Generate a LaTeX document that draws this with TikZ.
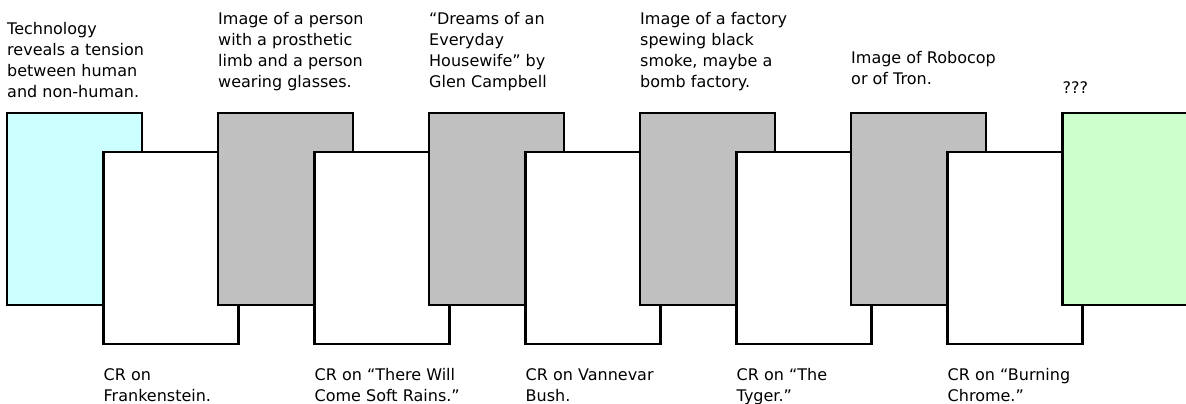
\documentclass[tikz,border=0pt]{standalone}
\usepackage{fontspec}
\setmainfont{DejaVu Sans}
\usepackage{xcolor}
\usetikzlibrary{positioning}

\definecolor{cyanlicht}{HTML}{CCFFFF}
\definecolor{grijs}{HTML}{C0C0C0}
\definecolor{groenlicht}{HTML}{CCFFCC}

\begin{document}
\begin{tikzpicture}[x=1pt, y=-1pt,
    card/.style={draw, line width=2.6pt, minimum width=135pt, minimum height=192pt,
                 anchor=north west, inner sep=0pt, outer sep=0pt},
    lbl/.style={anchor=north west, inner sep=0pt, align=left,
                font=\fontsize{16}{21}\selectfont}]

    % Kader en afsnijden
    \clip (0,0) rectangle (1186,404);

    % Rij van kaarten, van links naar rechts
    \node[card, fill=cyanlicht] (tech) at (7,113) {};
    \node[card, fill=white] (cr1) at (103.5,152) {};
    \node[card, fill=grijs] (img1) at (218,113) {};
    \node[card, fill=white] (cr2) at (314.5,152) {};
    \node[card, fill=grijs] (img2) at (429,113) {};
    \node[card, fill=white] (cr3) at (525.5,152) {};
    \node[card, fill=grijs] (img3) at (640,113) {};
    \node[card, fill=white] (cr4) at (736.5,152) {};
    \node[card, fill=grijs] (img4) at (851,113) {};
    \node[card, fill=white] (cr5) at (947.5,152) {};
    \node[card, fill=groenlicht] (slot) at (1062.5,113) {};

    % Teksten boven
    \node[lbl] (techtxt) at (7,22) {Technology\\reveals a tension\\between human\\and non-human.};
    \node[lbl] (img1txt) at (218,12) {Image of a person\\with a prosthetic\\limb and a person\\wearing glasses.};
    \node[lbl] (img2txt) at (429,12) {“Dreams of an\\Everyday\\Housewife” by\\Glen Campbell};
    \node[lbl] (img3txt) at (640,12) {Image of a factory\\spewing black\\smoke, maybe a\\bomb factory.};
    \node[lbl] (img4txt) at (851,51) {Image of Robocop\\or of Tron.};
    \node[lbl] (slottxt) at (1062.5,81) {???};

    % Teksten onder
    \node[lbl] (cr1txt) at (103.5,368) {CR on\\Frankenstein.};
    \node[lbl] (cr2txt) at (314.5,368) {CR on “There Will\\Come Soft Rains.”};
    \node[lbl] (cr3txt) at (525.5,368) {CR on Vannevar\\Bush.};
    \node[lbl] (cr4txt) at (736.5,368) {CR on “The\\Tyger.”};
    \node[lbl] (cr5txt) at (947.5,368) {CR on “Burning\\Chrome.”};
\end{tikzpicture}
\end{document}
